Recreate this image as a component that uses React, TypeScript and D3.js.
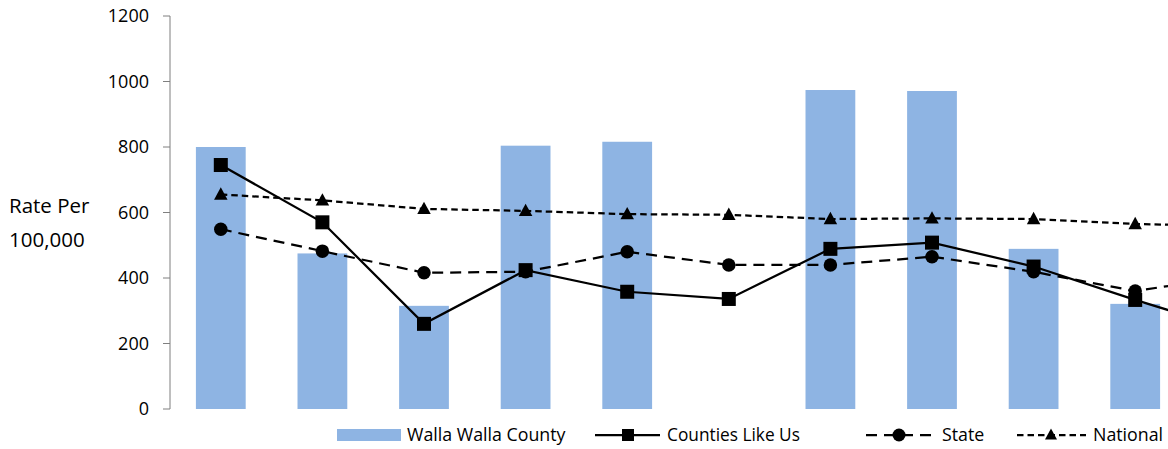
import React from "react";
import * as d3 from "d3";

const categories = ["C1", "C2", "C3", "C4", "C5", "C6", "C7", "C8", "C9", "C10", "C11"];
const wallaWallaCounty: (number | null)[] = [800, 475, 315, 804, 816, null, 974, 971, 489, 321, null];
const countiesLikeUs = [745, 570, 260, 424, 358, 336, 489, 508, 435, 333, 238];
const stateValues = [549, 482, 416, 419, 480, 440, 440, 465, 419, 360, 408];
const nationalValues = [655, 637, 611, 605, 595, 593, 580, 582, 580, 565, 558];
const yTicks = [0, 200, 400, 600, 800, 1000, 1200];

const W = 1168;
const H = 449;
const FONT = "'Open Sans', sans-serif";
const BAR = "#8EB4E3";
const AXIS = "#7f7f7f";

function marker(kind: string, x: number, y: number, s: number, key?: string) {
  if (kind === "square") return <rect key={key} x={x - s / 2} y={y - s / 2} width={s} height={s} fill="#000" />;
  if (kind === "circle") return <circle key={key} cx={x} cy={y} r={s / 2} fill="#000" />;
  const h = s * 0.92;
  return (
    <path
      key={key}
      d={`M${x},${y - h / 2 - 1}L${x + s / 2},${y + h / 2 - 1}L${x - s / 2},${y + h / 2 - 1}Z`}
      fill="#000"
    />
  );
}

export default function App() {
  const left = 170;
  const step = 101.6;
  const x = d3
    .scaleBand<string>()
    .domain(categories)
    .range([left, left + step * categories.length])
    .paddingInner(0.51)
    .paddingOuter(0.255);
  const y = d3.scaleLinear().domain([0, 1200]).range([409, 16]);
  const cx = (c: string) => (x(c) as number) + x.bandwidth() / 2;

  const line = d3
    .line<number>()
    .x((_, i) => cx(categories[i]))
    .y((d) => y(d));

  const series = [
    { name: "Counties Like Us", values: countiesLikeUs, dash: "none", kind: "square", size: 14 },
    { name: "State", values: stateValues, dash: "11 7", kind: "circle", size: 13.5 },
    { name: "National", values: nationalValues, dash: "6.5 4", kind: "triangle", size: 13.5 },
  ];

  const legendY = 435;
  const LF = 17.3;

  return (
    <svg
      width={W}
      height={H}
      style={{ position: "fixed", left: 0, top: 0, background: "#fff" }}
      fontFamily={FONT}
    >
      <rect width={W} height={H} fill="#fff" />
      {/* bars */}
      {categories.map((c, i) =>
        wallaWallaCounty[i] == null ? null : (
          <rect
            key={c}
            x={x(c)}
            y={y(wallaWallaCounty[i] as number)}
            width={x.bandwidth()}
            height={y(0) - y(wallaWallaCounty[i] as number)}
            fill={BAR}
          />
        )
      )}
      {/* y axis */}
      <line x1={left} x2={left} y1={y(1200)} y2={y(0)} stroke={AXIS} strokeWidth={1} />
      {yTicks.map((t) => (
        <g key={t}>
          <line x1={left - 7} x2={left} y1={y(t)} y2={y(t)} stroke={AXIS} strokeWidth={1} />
          <text x={149} y={y(t)} dy="0.35em" textAnchor="end" fontSize={18} fill="#000">
            {t}
          </text>
        </g>
      ))}
      <text x={9} y={206} dy="0.35em" fontSize={20.5} fill="#000">
        Rate Per
      </text>
      <text x={9} y={240} dy="0.35em" fontSize={20.5} fill="#000">
        100,000
      </text>
      {/* lines */}
      {series.map((s) => (
        <g key={s.name}>
          <path
            d={line(s.values) as string}
            fill="none"
            stroke="#000"
            strokeWidth={2.25}
            strokeDasharray={s.dash}
          />
          {s.values.map((v, i) => marker(s.kind, cx(categories[i]), y(v), s.size, `${s.name}${i}`))}
        </g>
      ))}
      {/* legend */}
      <rect x={337} y={429} width={64} height={12} fill={BAR} />
      <text x={407} y={legendY} dy="0.35em" fontSize={LF + 0.5}>
        Walla Walla County
      </text>
      <line x1={595} x2={660} y1={legendY} y2={legendY} stroke="#000" strokeWidth={2.25} />
      {marker("square", 628, legendY, 12)}
      <text x={667} y={legendY} dy="0.35em" fontSize={LF}>
        Counties Like Us
      </text>
      <line x1={866} x2={932} y1={legendY} y2={legendY} stroke="#000" strokeWidth={2.25} strokeDasharray="11 7" />
      {marker("circle", 899, legendY, 13)}
      <text x={942} y={legendY} dy="0.35em" fontSize={LF + 0.5}>
        State
      </text>
      <line x1={1017} x2={1086} y1={legendY} y2={legendY} stroke="#000" strokeWidth={2.25} strokeDasharray="6.5 4" />
      {marker("triangle", 1051, legendY, 12)}
      <text x={1093} y={legendY} dy="0.35em" fontSize={LF + 0.5}>
        National
      </text>
    </svg>
  );
}
